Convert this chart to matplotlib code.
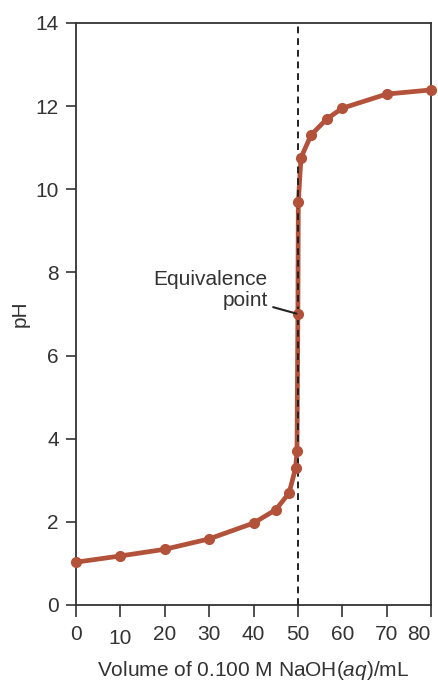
import matplotlib
matplotlib.use("Agg")
import matplotlib.pyplot as plt
from matplotlib.transforms import ScaledTranslation

plt.rcParams['font.family'] = ['Liberation Sans', 'DejaVu Sans']
plt.rcParams['mathtext.fontset'] = 'custom'
plt.rcParams['mathtext.rm'] = 'Liberation Sans'
plt.rcParams['mathtext.it'] = 'Liberation Sans:italic'

# Data
volume = [0, 10, 20, 30, 40, 45, 48, 49.5, 49.8, 50, 50.1, 50.7, 53, 56.5, 60, 70, 80]
ph = [1.03, 1.18, 1.34, 1.59, 1.97, 2.29, 2.69, 3.30, 3.70, 7.00, 9.69, 10.76, 11.31, 11.69, 11.95, 12.29, 12.39]
x_ticks = [0, 10, 20, 30, 40, 50, 60, 70, 80]
y_ticks = [0, 2, 4, 6, 8, 10, 12, 14]
equivalence_volume = 50
equivalence_ph = 7.0

curve_color = '#B3523A'
axis_color = '#333333'
text_color = '#333333'

fig = plt.figure(figsize=(4.38, 6.84), dpi=100)
ax = fig.add_axes([76/438, 1 - 605/684, (431 - 76)/438, (605 - 23)/684])

ax.plot([equivalence_volume, equivalence_volume], [0, 14], linestyle=(0, (3.5, 2.5)),
        color='#222222', linewidth=1.4, zorder=3)
ax.plot(volume, ph, color=curve_color, linewidth=3.4, solid_joinstyle='round',
        solid_capstyle='round', zorder=2, clip_on=False)
ax.plot(volume, ph, linestyle='none', marker='o', markersize=7, color=curve_color,
        zorder=4, clip_on=False)

ax.set_xlim(0, 80)
ax.set_ylim(0, 14)
ax.set_xticks(x_ticks)
ax.set_yticks(y_ticks)
for s in ax.spines.values():
    s.set_color(axis_color)
    s.set_linewidth(1.3)
ax.tick_params(axis='x', direction='out', length=8.5, width=1.2, color=axis_color,
               labelsize=15, labelcolor=text_color, pad=6)
ax.tick_params(axis='y', direction='out', length=7.5, width=1.2, color=axis_color,
               labelsize=15, labelcolor=text_color, pad=5)

# the "10" label sits slightly lower, the "80" label is pulled inward in the reference
xl = ax.get_xticklabels()
xl[1].set_transform(xl[1].get_transform() + ScaledTranslation(0, -4/100, fig.dpi_scale_trans))
xl[-1].set_transform(xl[-1].get_transform() + ScaledTranslation(-12/100, 0, fig.dpi_scale_trans))

ax.set_xlabel(r'Volume of 0.100 M NaOH$(\mathit{aq})$/mL', fontsize=15, color=text_color, labelpad=8)
ax.set_ylabel('pH', fontsize=15, color=text_color, labelpad=4)

ax.annotate('Equivalence\npoint', xy=(equivalence_volume, equivalence_ph),
            xytext=(43.2, 7.58), ha='right', va='center', fontsize=15, color=text_color,
            linespacing=1.1,
            arrowprops=dict(arrowstyle='-', color='#222222', lw=1.5, shrinkA=2, shrinkB=1),
            zorder=5)

fig.savefig('out.png', dpi=100)
